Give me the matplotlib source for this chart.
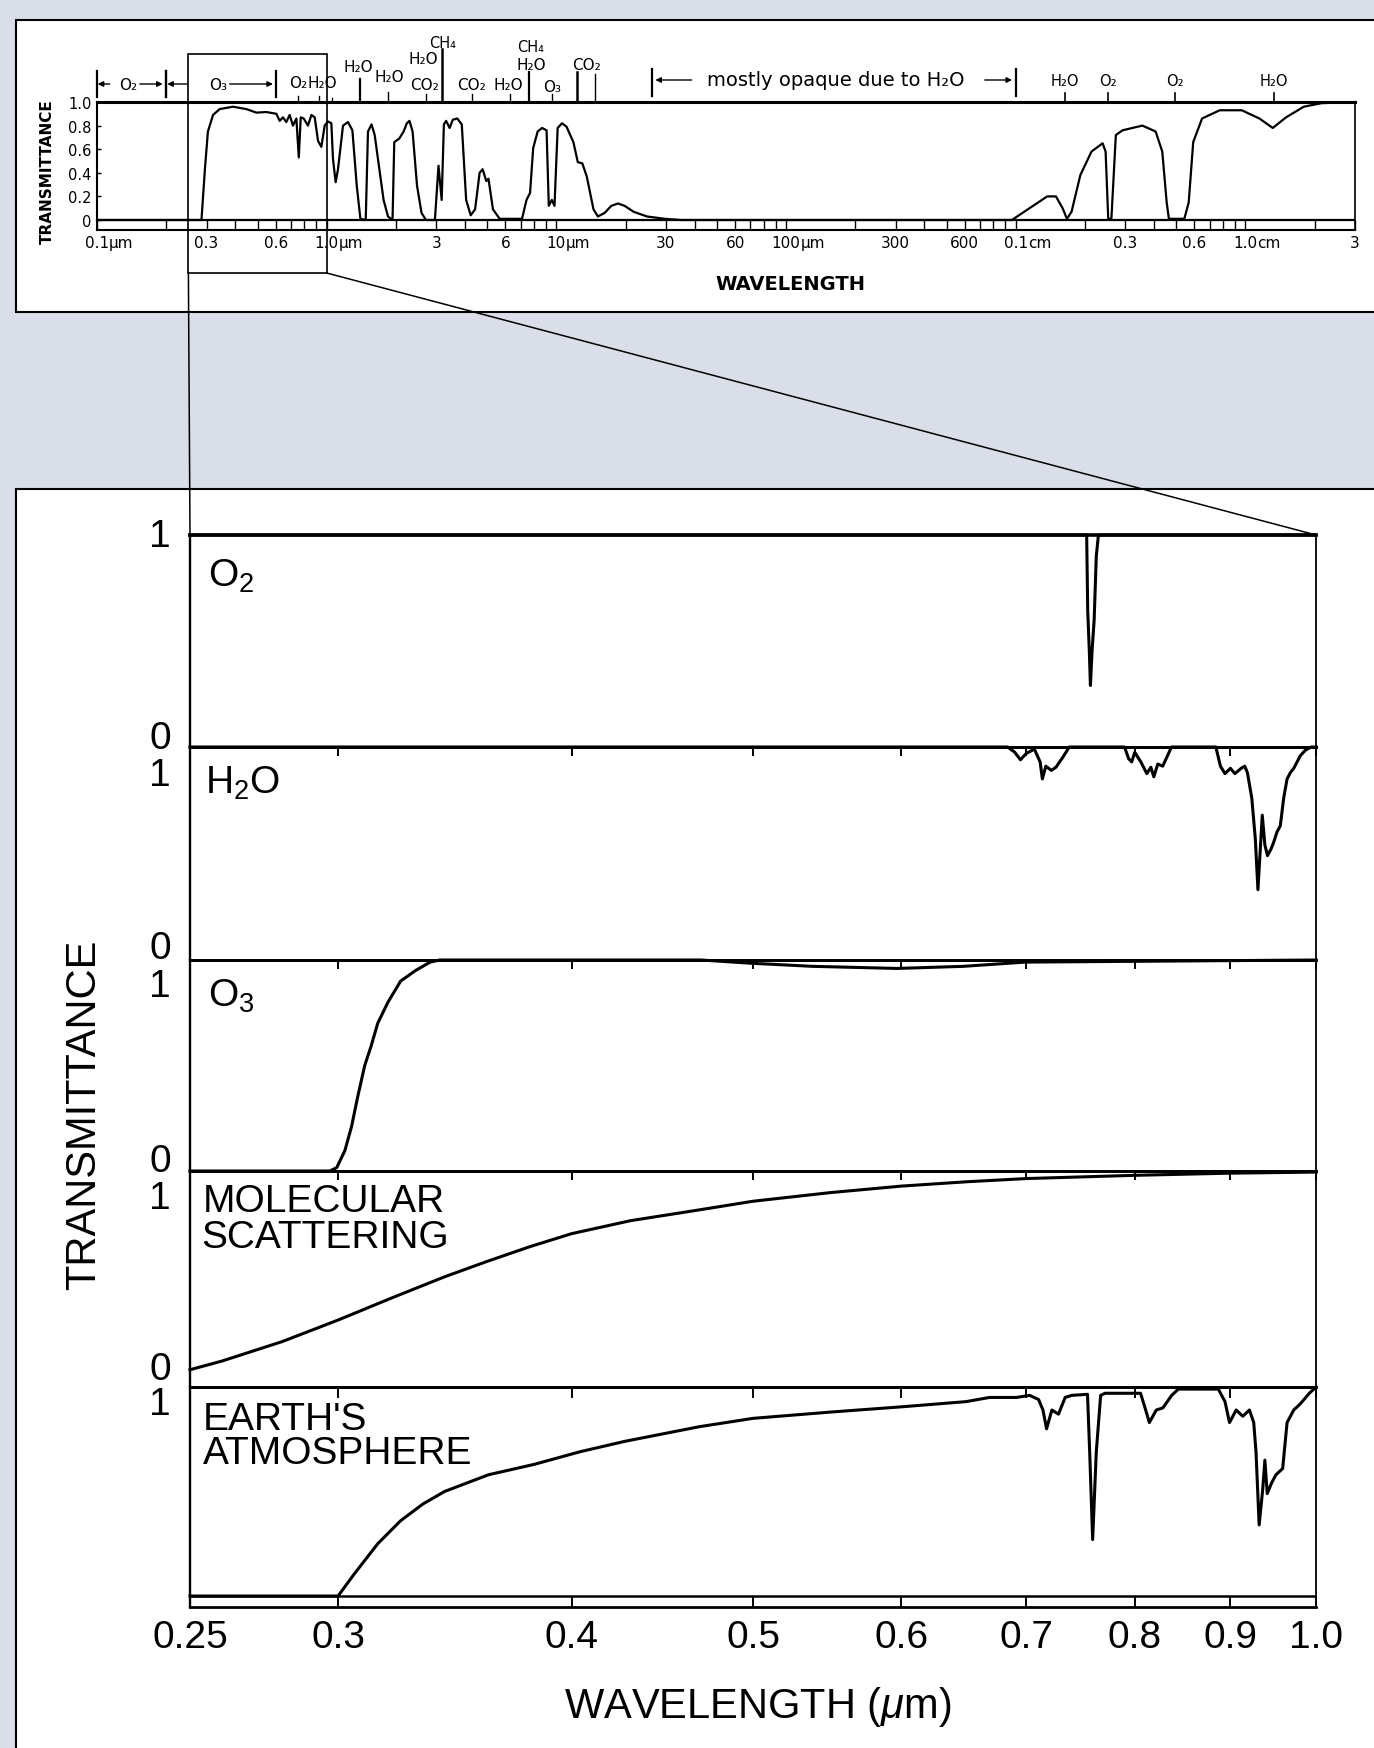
import numpy as np
import matplotlib
matplotlib.use('Agg')
import matplotlib.pyplot as plt
from matplotlib.patches import Rectangle, ConnectionPatch
from matplotlib.ticker import FixedLocator, FixedFormatter, LogLocator, NullLocator

plt.rcParams['font.family'] = ['DejaVu Sans']
plt.rcParams['mathtext.fontset'] = 'custom'
plt.rcParams['mathtext.rm'] = 'Liberation Sans'
plt.rcParams['mathtext.it'] = 'Liberation Sans:italic'
plt.rcParams['mathtext.bf'] = 'Liberation Sans:bold'
LOWFONT = ['Liberation Sans', 'DejaVu Sans']

# ---------------- data: full spectrum (wavelength in micrometres) ----------------
top_wl = [0.10, 0.285, 0.295, 0.304, 0.320, 0.342, 0.391, 0.447, 0.494, 0.546, 0.604, 0.624,
          0.645, 0.667, 0.690, 0.713, 0.738, 0.756, 0.771, 0.794, 0.829, 0.858, 0.887, 0.917,
          0.948, 0.980, 1.013, 1.048, 1.065, 1.094, 1.12, 1.178, 1.238, 1.294, 1.352, 1.402,
          1.479, 1.513, 1.568, 1.618, 1.769, 1.849, 1.935, 1.969, 2.070, 2.163, 2.233, 2.293,
          2.366, 2.474, 2.588, 2.705, 2.959, 3.068, 3.167, 3.238, 3.311, 3.431, 3.540, 3.704,
          3.874, 4.048, 4.236, 4.427, 4.632, 4.776, 4.953, 5.063, 5.297, 5.664, 7.087, 7.413,
          7.682, 7.927, 8.290, 8.669, 9.065, 9.269, 9.557, 9.816, 10.13, 10.59, 11.08, 11.86,
          12.40, 12.97, 13.56, 14.51, 15.17, 16.23, 17.34, 18.54, 19.82, 21.68, 24.78, 29.66,
          35.0, 962, 1148, 1371, 1496, 1600, 1671, 1750, 1911, 2137, 2389, 2462, 2528, 2609,
          2728, 2916, 3560, 4065, 4345, 4541, 4643, 5420, 5665, 5925, 6475, 7730, 9640, 11510,
          13150, 15030, 17950, 21430, 29900]
top_T = [0, 0, 0.43, 0.75, 0.89, 0.94, 0.96, 0.94, 0.91, 0.915, 0.90, 0.84,
         0.87, 0.83, 0.89, 0.80, 0.86, 0.53, 0.87, 0.86, 0.80, 0.89, 0.87, 0.67,
         0.62, 0.80, 0.835, 0.82, 0.52, 0.32, 0.43, 0.80, 0.83, 0.76, 0.29, 0.01,
         0.0, 0.75, 0.81, 0.72, 0.17, 0.03, 0.0, 0.66, 0.69, 0.75, 0.82, 0.84,
         0.75, 0.29, 0.06, 0.0, 0.0, 0.46, 0.17, 0.81, 0.84, 0.78, 0.85, 0.86,
         0.81, 0.17, 0.04, 0.09, 0.40, 0.43, 0.33, 0.35, 0.09, 0.01, 0.01, 0.17,
         0.23, 0.61, 0.75, 0.78, 0.76, 0.12, 0.17, 0.12, 0.78, 0.82, 0.79, 0.66,
         0.49, 0.48, 0.37, 0.09, 0.03, 0.06, 0.12, 0.14, 0.12, 0.07, 0.03, 0.01,
         0.0, 0.0, 0.10, 0.20, 0.20, 0.10, 0.01, 0.07, 0.38, 0.58, 0.65, 0.58, 0.01, 0.01,
         0.72, 0.76, 0.80, 0.75, 0.58, 0.15, 0.01, 0.01, 0.15, 0.66, 0.86, 0.93, 0.93, 0.86,
         0.78, 0.87, 0.96, 0.99, 1.0]

top_tick_wl = [0.1, 0.3, 0.6, 1.0, 3, 6, 10, 30, 60, 100, 300, 600, 1000, 3000, 6000, 10000, 30000]
top_tick_num = ['0.1', '0.3', '0.6', '1.0', '3', '6', '10', '30', '60', '100', '300', '600',
                '0.1', '0.3', '0.6', '1.0', '3']
top_tick_unit = ['µm', '', '', 'µm', '', '', 'µm', '', '', 'µm', '', '', 'cm', '', '', 'cm', '']
top_yticks = [0, 0.2, 0.4, 0.6, 0.8, 1.0]
top_ylabels = ['0', '0.2', '0.4', '0.6', '0.8', '1.0']

# absorber annotations above the full spectrum
ann_label_wl = [0.75, 0.96, 1.37, 1.88, 2.64, 2.66, 3.2, 4.27, 6.15, 7.75, 7.75, 9.55, 13.5,
                1633, 2513, 4920, 13270]
ann_label_txt = ['O₂', 'H₂O', 'H₂O', 'H₂O', 'H₂O', 'CO₂', 'CH₄', 'CO₂', 'H₂O', 'CH₄', 'H₂O',
                 'O₃', 'CO₂', 'H₂O', 'O₂', 'O₂', 'H₂O']
ann_tick_wl = [0.75, 0.93, 1.06, 1.39, 1.84, 2.72, 3.17, 4.3, 6.27, 7.6, 9.6, 12.3, 14.7,
               1633, 2513, 4920, 13270]
range_lo = [0.1, 0.2, 26.0]
range_hi = [0.2, 0.6, 1000.0]
range_txt = ['O₂', 'O₃', 'mostly opaque due to H₂O']

# ---------------- data: 0.25-1.0 um detail panels ----------------
o2_wl = [0.25, 0.754, 0.755, 0.7565, 0.7575, 0.759, 0.761, 0.763, 0.765, 1.0]
o2_T = [1.0, 1.0, 0.64, 0.45, 0.29, 0.45, 0.60, 0.90, 1.0, 1.0]

h2o_wl = [0.25, 0.684, 0.690, 0.695, 0.700, 0.707, 0.712, 0.714, 0.717, 0.722, 0.726, 0.732,
          0.738, 0.790, 0.794, 0.797, 0.800, 0.806, 0.812, 0.816, 0.819, 0.823, 0.828, 0.833,
          0.837, 0.884, 0.889, 0.894, 0.900, 0.905, 0.912, 0.916, 0.919, 0.924, 0.928, 0.931,
          0.934, 0.936, 0.939, 0.942, 0.946, 0.949, 0.953, 0.957, 0.961, 0.965, 0.969, 0.973,
          0.977, 0.981, 0.987, 0.994, 1.0]
h2o_T = [1.0, 1.0, 0.976, 0.94, 0.97, 0.99, 0.93, 0.85, 0.91, 0.89, 0.905, 0.95,
         1.0, 1.0, 0.945, 0.93, 0.975, 0.93, 0.875, 0.905, 0.86, 0.92, 0.91, 0.96,
         1.0, 1.0, 0.91, 0.875, 0.90, 0.875, 0.90, 0.91, 0.88, 0.76, 0.57, 0.33,
         0.54, 0.68, 0.54, 0.49, 0.52, 0.55, 0.60, 0.63, 0.76, 0.85, 0.88, 0.90,
         0.93, 0.96, 0.985, 1.0, 1.0]

o3_wl = [0.25, 0.297, 0.2995, 0.3025, 0.305, 0.3073, 0.310, 0.3124, 0.315, 0.319, 0.324,
         0.330, 0.336, 0.340, 0.469, 0.498, 0.538, 0.597, 0.648, 0.699, 1.0]
o3_T = [0, 0, 0.016, 0.096, 0.21, 0.35, 0.50, 0.59, 0.70, 0.80, 0.90,
        0.95, 0.99, 1.0, 1.0, 0.985, 0.97, 0.96, 0.97, 0.99, 1.0]

ms_wl = [0.25, 0.26, 0.28, 0.30, 0.32, 0.342, 0.36, 0.38, 0.40, 0.43, 0.468, 0.50, 0.55,
         0.60, 0.65, 0.70, 0.80, 0.90, 1.0]
ms_T = [0.08, 0.12, 0.21, 0.31, 0.41, 0.51, 0.58, 0.65, 0.71, 0.77, 0.82, 0.86, 0.90,
        0.93, 0.95, 0.965, 0.98, 0.99, 0.995]

ea_wl = [0.25, 0.300, 0.306, 0.315, 0.324, 0.333, 0.342, 0.361, 0.382, 0.404, 0.427, 0.468,
         0.50, 0.55, 0.60, 0.65, 0.669, 0.6915, 0.7029, 0.7107, 0.7145, 0.7177, 0.7224, 0.7283,
         0.7343, 0.7403, 0.7548, 0.7568, 0.7596, 0.7630, 0.7671, 0.7713, 0.8057, 0.8099,
         0.8145, 0.8215, 0.8282, 0.8372, 0.8441, 0.8867, 0.8940, 0.8990, 0.9064, 0.9138,
         0.9213, 0.9262, 0.9288, 0.9324, 0.9365, 0.9390, 0.9417, 0.9467, 0.9519, 0.9598,
         0.9650, 0.9730, 0.9810, 0.9918, 1.0]
ea_T = [0, 0, 0.105, 0.25, 0.36, 0.44, 0.50, 0.58, 0.63, 0.69, 0.74, 0.81,
        0.85, 0.88, 0.905, 0.93, 0.95, 0.95, 0.96, 0.94, 0.89, 0.80, 0.89, 0.87,
        0.95, 0.96, 0.965, 0.69, 0.27, 0.69, 0.96, 0.97, 0.97, 0.905,
        0.83, 0.89, 0.90, 0.96, 0.99, 0.99, 0.93, 0.83, 0.89, 0.86,
        0.89, 0.83, 0.69, 0.34, 0.51, 0.65, 0.49, 0.54, 0.58, 0.61,
        0.83, 0.89, 0.92, 0.97, 1.0]

low_ticks = [0.25, 0.3, 0.4, 0.5, 0.6, 0.7, 0.8, 0.9, 1.0]
low_ticklabels = ['0.25', '0.3', '0.4', '0.5', '0.6', '0.7', '0.8', '0.9', '1.0']
zoom_range = [0.25, 1.0]

# ---------------- layout helpers (pixels of the 1374x1749 canvas) ----------------
W, H = 1374, 1749
fig = plt.figure(figsize=(W / 100, H / 100), dpi=100)
fig.patch.set_facecolor('#dadee8')


def fx(px):
    return px / W


def fy(py):
    return 1.0 - py / H


def fbox(l, t, r, b):
    return [fx(l), fy(b), (r - l) / W, (b - t) / H]


# outer white frames
fig.add_artist(Rectangle((fx(16), fy(313)), 1.0, (313 - 21) / H, transform=fig.transFigure,
                         facecolor='white', edgecolor='black', lw=1.5, zorder=-5))
fig.add_artist(Rectangle((fx(16), fy(1800)), 1.0, (1800 - 490) / H, transform=fig.transFigure,
                         facecolor='white', edgecolor='black', lw=1.5, zorder=-5))

# ---------------- top: full spectrum ----------------
T_L, T_R, T_TOP, T_ZERO, T_BOT = 97, 1355, 103, 221, 231
ppu = T_ZERO - T_TOP


def ty(py):
    return (T_ZERO - py) / ppu


ax = fig.add_axes(fbox(T_L, T_TOP, T_R, T_BOT))
ax.set_facecolor('none')
ax.set_xscale('log')
ax.set_xlim(top_tick_wl[0], top_tick_wl[-1])
ax.set_ylim(ty(T_BOT), 1.0)
ax.plot(top_wl, top_T, color='k', lw=1.6, solid_joinstyle='round', clip_on=False, zorder=3)
ax.axhline(0, color='k', lw=1.6, zorder=2)
for side, lw in [('top', 2.2), ('left', 1.5), ('right', 1.2), ('bottom', 1.5)]:
    ax.spines[side].set_linewidth(lw)
ax.xaxis.set_major_locator(LogLocator(base=10, numticks=20))
ax.xaxis.set_minor_locator(LogLocator(base=10, subs=np.arange(2, 10), numticks=20))
ax.tick_params(axis='x', which='both', direction='in', length=7.2, width=1.0,
               bottom=True, top=False, labelbottom=False)
ax.set_yticks(top_yticks)
ax.set_yticklabels(top_ylabels)
ax.tick_params(axis='y', direction='in', length=3, width=1.0, labelsize=10.5, pad=4)

for wl, num, unit in zip(top_tick_wl, top_tick_num, top_tick_unit):
    t = ax.annotate(num, xy=(wl, ty(T_BOT)), xycoords='data', xytext=(0, -8.8),
                    textcoords='offset points', ha='center', va='center', fontsize=11,
                    annotation_clip=False)
    if unit:
        ax.annotate(unit, xy=(1, 0.5), xycoords=t, ha='left', va='center', fontsize=11,
                    annotation_clip=False)

fig.text(fx(790), fy(285), 'WAVELENGTH', ha='center', va='center', fontsize=14,
         fontweight='bold')
fig.text(fx(47), fy(172), 'TRANSMITTANCE', ha='center', va='center', fontsize=11,
         fontweight='bold', rotation=90)

# absorber labels and marks
label_y = [84, 84, 68, 77, 60, 85, 43, 85, 86, 48, 65, 87, 65, 82, 82, 82, 82]
label_fs = [11, 11, 11, 11, 11, 11, 10.5, 11, 11, 10.5, 11, 11, 11, 10.5, 10.5, 10.5, 10.5]
for wl, txt, yp, fs in zip(ann_label_wl, ann_label_txt, label_y, label_fs):
    ax.text(wl, ty(yp), txt, ha='center', va='center', fontsize=fs, clip_on=False)
tick_top = [97, 97, 99, 80, 93, 95, 50, 95, 95, 73, 95, 73, 75, 94, 94, 94, 94]
tick_lw = [1.0, 1.0, 1.0, 1.6, 1.0, 1.0, 1.8, 1.0, 1.0, 1.6, 1.0, 1.8, 1.0, 1.2, 1.2, 1.2, 1.2]
for wl, tp, lw in zip(ann_tick_wl, tick_top, tick_lw):
    ax.plot([wl, wl], [ty(tp), 1.0], color='k', lw=lw, clip_on=False)

# ranges with arrows: (left tail frac, text frac, right tail frac, right head frac)
range_layout = [(0.184, 0.45, 0.62, 0.95), (0.19, 0.47, 0.58, 0.975), (0.11, 0.505, 0.915, 0.99)]
range_y = [85, 85, 81]
range_bar = [(72, 98), (72, 98), (70, 97)]
range_fs = [11, 11, 14]
for lo, hi, txt, lay, yp, bar, fs in zip(range_lo, range_hi, range_txt, range_layout,
                                        range_y, range_bar, range_fs):
    llo, lhi = np.log10(lo), np.log10(hi)

    def at(f):
        return 10 ** (llo + f * (lhi - llo))
    for xb in (lo, hi):
        ax.plot([xb, xb], [ty(bar[0]), ty(bar[1])], color='k', lw=1.6, clip_on=False)
    ax.annotate('', xy=(at(0.01), ty(yp)), xytext=(at(lay[0]), ty(yp)),
                arrowprops=dict(arrowstyle='-|>', lw=1.0, color='k', mutation_scale=8,
                                shrinkA=0, shrinkB=0), annotation_clip=False)
    ax.annotate('', xy=(at(lay[3]), ty(yp)), xytext=(at(lay[2]), ty(yp)),
                arrowprops=dict(arrowstyle='-|>', lw=1.0, color='k', mutation_scale=8,
                                shrinkA=0, shrinkB=0), annotation_clip=False)
    ax.text(at(lay[1]), ty(yp), txt, ha='center', va='center', fontsize=fs, clip_on=False)

# zoom rectangle on full spectrum
RECT_T, RECT_B = 55, 274
ax.add_patch(Rectangle((zoom_range[0], ty(RECT_B)), zoom_range[1] - zoom_range[0],
                       ty(RECT_T) - ty(RECT_B), fill=False, lw=1.2, edgecolor='k',
                       clip_on=False, zorder=4))
ax_top = ax

# ---------------- lower: detail panels ----------------
L_L, L_R = 190, 1316
panel_rows = [(536, 748), (748, 961), (961, 1172), (1172, 1388), (1388, 1608)]
EA_ZERO = 1597
series = [(o2_wl, o2_T), (h2o_wl, h2o_T), (o3_wl, o3_T), (ms_wl, ms_T), (ea_wl, ea_T)]
axes_low = []
for i, ((top, bot), (wl, tr)) in enumerate(zip(panel_rows, series)):
    a = fig.add_axes(fbox(L_L, top, L_R, bot))
    a.set_facecolor('none')
    a.set_xscale('log')
    a.set_xlim(zoom_range)
    if i == 4:
        a.set_ylim(-(bot - EA_ZERO) / (EA_ZERO - top), 1.0)
        a.axhline(0, color='k', lw=1.8)
    else:
        a.set_ylim(0, 1)
    a.plot(wl, tr, color='k', lw=2.2, solid_joinstyle='round', clip_on=False, zorder=3)
    a.xaxis.set_major_locator(FixedLocator(low_ticks))
    a.xaxis.set_minor_locator(NullLocator())
    a.set_yticks([])
    a.spines['top'].set_linewidth(2.6 if i == 0 else 2.0)
    a.spines['bottom'].set_linewidth(2.0)
    a.spines['left'].set_linewidth(1.7)
    a.spines['right'].set_linewidth(1.3)
    if i == 4:
        a.xaxis.set_major_formatter(FixedFormatter(low_ticklabels))
        a.tick_params(axis='x', which='major', direction='in', top=True, bottom=True,
                      length=7.9, width=1.4, labelbottom=True, labelsize=28, pad=9)
        for lab in a.get_xticklabels():
            lab.set_fontfamily(LOWFONT)
    else:
        a.tick_params(axis='x', which='major', direction='in', top=(i > 0), bottom=False,
                      length=6.5, width=1.4, labelbottom=False)
    axes_low.append(a)

# zoom connection lines
for xw in zoom_range:
    con = ConnectionPatch(xyA=(xw, ty(RECT_B)), coordsA=ax_top.transData,
                          xyB=(xw, 1.0), coordsB=axes_low[0].transData,
                          color='k', lw=1.1)
    fig.add_artist(con)

# panel names (left, baseline)
panel_names = ['O$_2$', 'H$_2$O', 'O$_3$', 'MOLECULAR', 'SCATTERING', "EARTH'S", 'ATMOSPHERE']
name_pos = [(208, 587), (205, 794), (208, 1007), (203, 1212), (201, 1248), (203, 1430),
            (203, 1464)]
for txt, (px, py) in zip(panel_names, name_pos):
    fig.text(fx(px), fy(py), txt, ha='left', va='baseline', fontsize=28, family=LOWFONT)

# per-panel 1 / 0 labels
yl_text = ['1', '0', '1', '0', '1', '0', '1', '0', '1']
yl_base = [547, 749, 786, 959, 997, 1172, 1209, 1380, 1415]
for txt, py in zip(yl_text, yl_base):
    fig.text(fx(160), fy(py), txt, ha='center', va='baseline', fontsize=28, family=LOWFONT)

fig.text(fx(84), fy(1115), 'TRANSMITTANCE', ha='center', va='center', fontsize=30,
         rotation=90, family=LOWFONT)
fig.text(fx(758), fy(1707), r'WAVELENGTH ($\mu$m)', ha='center', va='center', fontsize=30,
         family=LOWFONT)

fig.savefig('out.png', dpi=100, facecolor=fig.get_facecolor())
